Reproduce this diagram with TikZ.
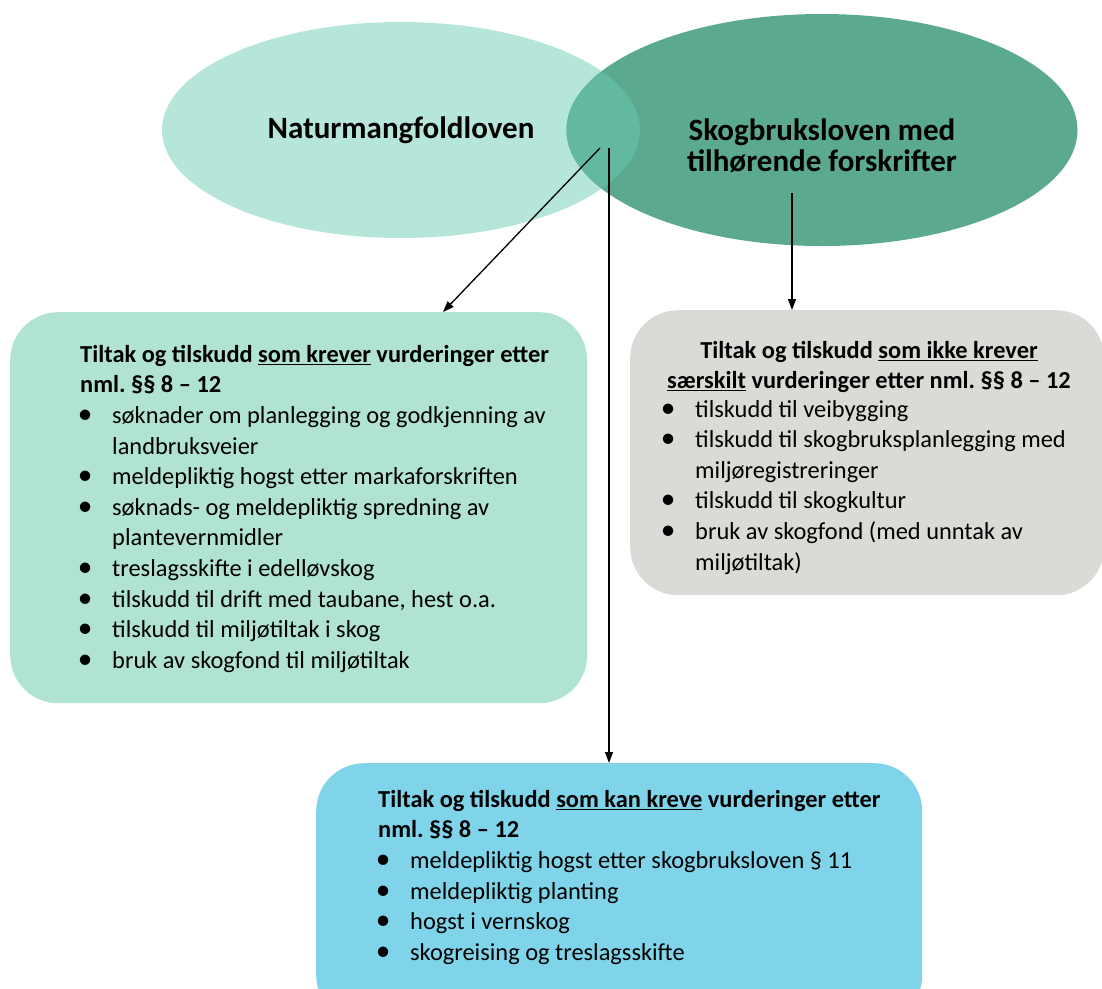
\documentclass[tikz,border=0pt]{standalone}
\usepackage{fontspec}
\setmainfont{Carlito}
\usetikzlibrary{shapes.geometric,arrows.meta}
\frenchspacing
\definecolor{natfill}{HTML}{B5E6D9}
\definecolor{skofill}{HTML}{5BAA8F}
\definecolor{ovlfill}{HTML}{63B8A0}
\definecolor{lfill}{HTML}{B0E3D0}
\definecolor{rfill}{HTML}{DADAD6}
\definecolor{bfill}{HTML}{80D4EA}
% one bullet line, and the second line of a bullet
\newcommand{\itemline}[2]{\hspace*{#1}\makebox[0pt]{\scalebox{1.2}{\textbullet}}\hspace*{27pt}#2}
\newcommand{\itemcont}[2]{\hspace*{#1}\hspace*{27pt}#2}
\begin{document}
\begin{tikzpicture}[x=1pt, y=-1pt,
    law/.style={ellipse, inner sep=0pt},
    lawtxt/.style={font=\fontsize{31}{31}\selectfont\bfseries, align=center},
    box/.style={rounded corners=48pt, inner sep=0pt, anchor=north west},
    txt/.style={inner sep=0pt, anchor=north west, align=left, font=\fontsize{24.4}{30.6}\selectfont},
    arr/.style={-{Triangle[length=11pt,width=8pt]}, line width=1.3pt}]
    \clip (0,0) rectangle (1102,988);
    % the two laws
    \node[law, fill=natfill, minimum width=478pt, minimum height=216pt] (nat) at (401,130) {};
    \node[law, fill=skofill, minimum width=511pt, minimum height=232pt] (sko) at (822,130) {};
    \begin{scope}
        \clip (401,130) ellipse [x radius=239, y radius=108];
        \fill[ovlfill] (822,130) ellipse [x radius=255.5, y radius=116];
    \end{scope}
    \node[lawtxt] (natlbl) at (nat) {Naturmangfoldloven};
    \node[lawtxt] (skolbl) at (822,146) {Skogbruksloven med\\tilhørende forskrifter};
    % boxes
    \node[box, fill=lfill, minimum width=577pt, minimum height=391pt] (lbox) at (10,312) {};
    \node[box, fill=rfill, minimum width=474pt, minimum height=285pt] (rbox) at (630,310) {};
    \node[box, fill=bfill, minimum width=606pt, minimum height=260pt] (bbox) at (316,763) {};
    \node[txt] (ltxt) at (80,345) {%
        \textbf{Tiltak og tilskudd \underline{som krever} vurderinger etter}\\
        \textbf{nml. §§ 8 – 12}\\
        \itemline{5pt}{søknader om planlegging og godkjenning av}\\
        \itemcont{5pt}{landbruksveier}\\
        \itemline{5pt}{meldepliktig hogst etter markaforskriften}\\
        \itemline{5pt}{søknads- og meldepliktig spredning av}\\
        \itemcont{5pt}{plantevernmidler}\\
        \itemline{5pt}{treslagsskifte i edelløvskog}\\
        \itemline{5pt}{tilskudd til drift med taubane, hest o.a.}\\
        \itemline{5pt}{tilskudd til miljøtiltak i skog}\\
        \itemline{5pt}{bruk av skogfond til miljøtiltak}};
    \node[txt, anchor=north, align=center] (rhead) at (869,341) {%
        \textbf{Tiltak og tilskudd \underline{som ikke krever}}\\
        \textbf{\underline{særskilt} vurderinger etter nml. §§ 8 – 12}};
    \node[txt] (rtxt) at (667,400) {%
        \itemline{1pt}{tilskudd til veibygging}\\
        \itemline{1pt}{tilskudd til skogbruksplanlegging med}\\
        \itemcont{1pt}{miljøregistreringer}\\
        \itemline{1pt}{tilskudd til skogkultur}\\
        \itemline{1pt}{bruk av skogfond (med unntak av}\\
        \itemcont{1pt}{miljøtiltak)}};
    \node[txt] (btxt) at (378,790) {%
        \textbf{Tiltak og tilskudd \underline{som kan kreve} vurderinger etter}\\
        \textbf{nml. §§ 8 – 12}\\
        \itemline{5pt}{meldepliktig hogst etter skogbruksloven § 11}\\
        \itemline{5pt}{meldepliktig planting}\\
        \itemline{5pt}{hogst i vernskog}\\
        \itemline{5pt}{skogreising og treslagsskifte}};
    % arrows
    \coordinate (ovlA) at (600,148);
    \coordinate (ovlB) at (609,148);
    \coordinate (skoC) at (792,193);
    \coordinate (lin) at (443,312);
    \draw[arr] (ovlA) -- (lin);
    \draw[arr] (ovlB) -- (ovlB |- bbox.north);
    \draw[arr] (skoC) -- (skoC |- rbox.north);
\end{tikzpicture}
\end{document}
